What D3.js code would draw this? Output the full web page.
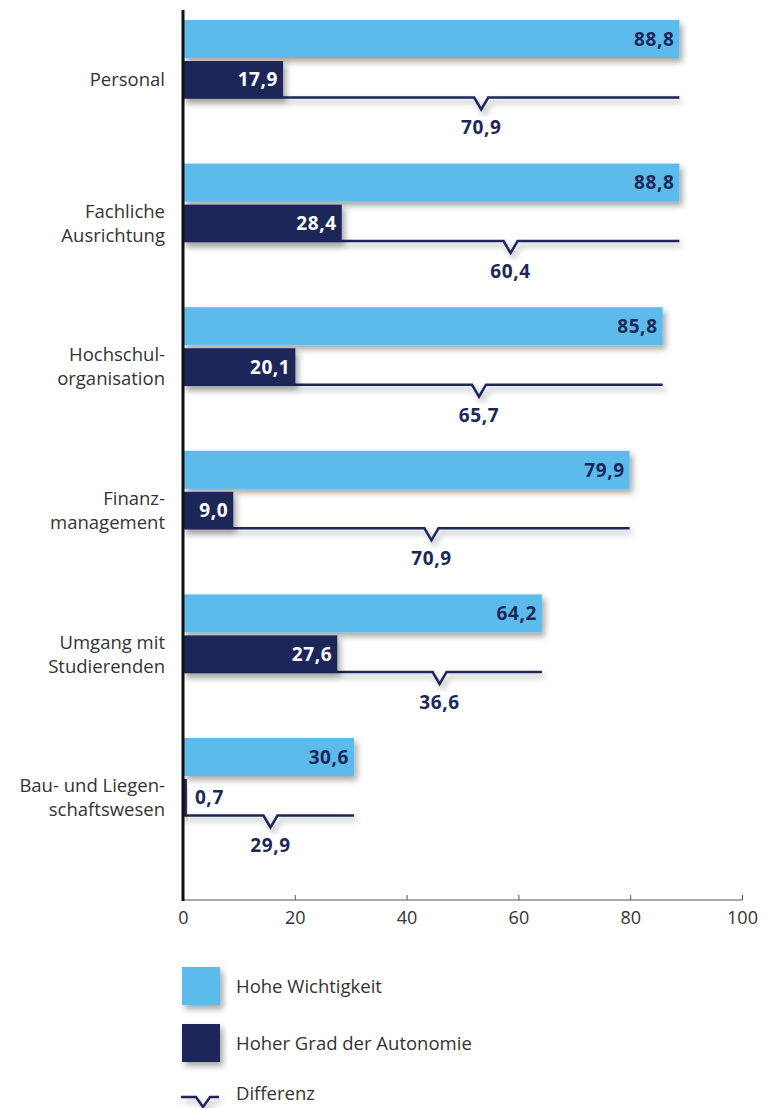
<!DOCTYPE html>
<html>
<head>
<meta charset="utf-8">
<script src="https://cdn.jsdelivr.net/npm/d3@7"></script>
<style>
html,body{margin:0;padding:0;background:#fff;}
svg{display:block;}
</style>
</head>
<body>
<svg id="chart" width="763" height="1108"></svg>
<script>
const categories = [["Personal"],["Fachliche","Ausrichtung"],["Hochschul-","organisation"],["Finanz-","management"],["Umgang mit","Studierenden"],["Bau- und Liegen-","schaftswesen"]];
const wichtigkeit = [88.8, 88.8, 85.8, 79.9, 64.2, 30.6];
const autonomie = [17.9, 28.4, 20.1, 9.0, 27.6, 0.7];
const differenz = [70.9, 60.4, 65.7, 70.9, 36.6, 29.9];
const xTicks = [0, 20, 40, 60, 80, 100];
const legendLabels = ["Hohe Wichtigkeit", "Hoher Grad der Autonomie", "Differenz"];

const LIGHT = "#5bbbea", DARK = "#1e2858", TXT = "#333";
const FONT = "'Open Sans', 'DejaVu Sans', sans-serif";
const fmt = v => v.toFixed(1).replace(".", ",");

const svg = d3.select("#chart");
const defs = svg.append("defs");
const f = defs.append("filter").attr("id","sh").attr("x","-10%").attr("y","-30%").attr("width","130%").attr("height","190%");
f.append("feDropShadow").attr("dx",3).attr("dy",4).attr("stdDeviation",3).attr("flood-color","#000").attr("flood-opacity",0.35);

const x = d3.scaleLinear().domain([0,100]).range([183,742]);
const idx = categories.map((d,i)=>i);
const y = d3.scaleBand().domain(idx).range([10, 871.6]).padding(0);

// x axis
const axisY = 900;
const ax = svg.append("g").attr("transform",`translate(0,${axisY})`)
  .call(d3.axisBottom(x).tickValues(xTicks).tickSize(-5).tickPadding(10).tickFormat(d=>d));
ax.select(".domain").attr("stroke","#555").attr("stroke-width",1).attr("d",`M${x(0)},0H${x(100)}`);
ax.selectAll(".tick line").attr("stroke","#555");
ax.selectAll(".tick text").attr("font-family",FONT).attr("font-size",18).attr("fill",TXT).attr("dy","0.8em");

const g = svg.append("g");
idx.forEach(i=>{
  const b = y(i);
  const ly = b + 10, lh = 38;
  const dy = b + 51, dh = 37;
  const lineY = dy + dh - 0.5;
  const mx = x((autonomie[i]+wichtigkeit[i])/2);
  g.append("path")
    .attr("d",`M${x(0)},${lineY}H${mx-7}L${mx},${lineY+12}L${mx+7},${lineY}H${x(wichtigkeit[i])}`)
    .attr("fill","none").attr("stroke",DARK).attr("stroke-width",2.5).attr("filter","url(#sh)");
  g.append("rect").attr("x",x(0)).attr("y",ly).attr("width",x(wichtigkeit[i])-x(0)).attr("height",lh)
    .attr("fill",LIGHT).attr("filter","url(#sh)");
  g.append("rect").attr("x",x(0)).attr("y",dy).attr("width",x(autonomie[i])-x(0)).attr("height",dh)
    .attr("fill",DARK).attr("filter","url(#sh)");
  g.append("text").attr("x",x(wichtigkeit[i])-5).attr("y",ly+lh/2).attr("dy","0.36em")
    .attr("text-anchor","end").attr("font-family",FONT).attr("font-weight","bold").attr("font-size",19)
    .attr("letter-spacing",0.6).attr("fill",DARK).text(fmt(wichtigkeit[i]));
  const inside = x(autonomie[i])-x(0) > 45;
  g.append("text").attr("x", inside ? x(autonomie[i])-5 : x(autonomie[i])+8).attr("y",dy+dh/2).attr("dy","0.36em")
    .attr("text-anchor", inside ? "end" : "start").attr("font-family",FONT).attr("font-weight","bold").attr("font-size",19)
    .attr("letter-spacing",0.6).attr("fill", inside ? "#fff" : DARK).text(fmt(autonomie[i]));
  g.append("text").attr("x",mx).attr("y",lineY+30).attr("dy","0.36em")
    .attr("text-anchor","middle").attr("font-family",FONT).attr("font-weight","bold").attr("font-size",19)
    .attr("letter-spacing",0.6).attr("fill",DARK).text(fmt(differenz[i]));
  const lines = categories[i];
  const cy = dy + dh/2;
  const t = g.append("text").attr("text-anchor","end").attr("font-family",FONT).attr("font-size",18.5).attr("fill",TXT);
  lines.forEach((s,k)=>{
    t.append("tspan").attr("x",165).attr("y", cy + (k - (lines.length-1)/2)*24).attr("dy","0.36em").text(s);
  });
});

// vertical axis line
svg.append("line").attr("x1",x(0)).attr("x2",x(0)).attr("y1",10).attr("y2",axisY+1)
  .attr("stroke","#111").attr("stroke-width",3);

// legend
const lg = svg.append("g");
const legY = [986, 1043, 1093];
lg.append("rect").attr("x",182).attr("y",legY[0]-19).attr("width",38).attr("height",38).attr("fill",LIGHT).attr("filter","url(#sh)");
lg.append("rect").attr("x",182).attr("y",legY[1]-19).attr("width",38).attr("height",38).attr("fill",DARK).attr("filter","url(#sh)");
lg.append("path").attr("d",`M181,${legY[2]+4}H196L203,${legY[2]+14}L210,${legY[2]+4}H219`)
  .attr("fill","none").attr("stroke",DARK).attr("stroke-width",2.5).attr("filter","url(#sh)");
legendLabels.forEach((s,k)=>{
  lg.append("text").attr("x",236).attr("y",legY[k]).attr("dy","0.36em")
    .attr("font-family",FONT).attr("font-size",18.5).attr("fill",TXT).text(s);
});
</script>
</body>
</html>
